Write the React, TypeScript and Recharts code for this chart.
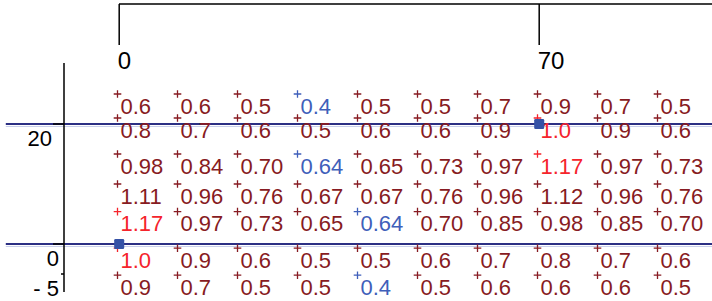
import { ReferenceLine, Scatter, ScatterChart, XAxis, YAxis } from 'recharts';

// grid of annotated values: columns are x positions, rows are y positions
const columnX = [0, 10, 20, 30, 40, 50, 60, 70, 80, 90];
const rowY = [25, 21, 15, 10, 5.4, -0.7, -5.2];
const rowDigits = [1, 1, 2, 2, 2, 1, 1];

const row1 = [0.6, 0.6, 0.5, 0.4, 0.5, 0.5, 0.7, 0.9, 0.7, 0.5];
const row2 = [0.8, 0.7, 0.6, 0.5, 0.6, 0.6, 0.9, 1.0, 0.9, 0.6];
const row3 = [0.98, 0.84, 0.7, 0.64, 0.65, 0.73, 0.97, 1.17, 0.97, 0.73];
const row4 = [1.11, 0.96, 0.76, 0.67, 0.67, 0.76, 0.96, 1.12, 0.96, 0.76];
const row5 = [1.17, 0.97, 0.73, 0.65, 0.64, 0.7, 0.85, 0.98, 0.85, 0.7];
const row6 = [1.0, 0.9, 0.6, 0.5, 0.5, 0.6, 0.7, 0.8, 0.7, 0.6];
const row7 = [0.9, 0.7, 0.5, 0.5, 0.4, 0.5, 0.6, 0.6, 0.6, 0.5];
const rows = [row1, row2, row3, row4, row5, row6, row7];

// [row, column] of highlighted cells
const highCells = [[1, 7], [2, 7], [4, 0], [5, 0]];
const lowCells = [[0, 3], [2, 3], [4, 4], [6, 4]];

// square markers and horizontal guide lines
const markerX = [0, 70];
const markerY = [0, 20];
const guideY = [20, 0];

const xTicks = [0, 70];
const yTicks = [20, 0, -5];
const xDomain = [-9.2, 98.8];
const yDomain = [-8, 40];

const FONT = '"Liberation Sans", Arial, Helvetica, sans-serif';
const DARK = '#871b22';
const HIGH = '#f5242c';
const LOW = '#3f5fba';

const isIn = (cells: number[][], r: number, c: number) =>
    cells.some(([rr, cc]) => rr === r && cc === c);

const labelPoints = rows.flatMap((vals, r) =>
    vals.map((v, c) => ({
        x: columnX[c],
        y: rowY[r],
        label: v.toFixed(rowDigits[r]),
        kind: isIn(highCells, r, c) ? 'high' : isIn(lowCells, r, c) ? 'low' : 'normal',
    })),
);

const markerPoints = markerX.map((x, i) => ({ x, y: markerY[i] }));

function ValueLabel(props: any) {
    const { cx, cy, payload } = props;
    const color = payload.kind === 'high' ? HIGH : payload.kind === 'low' ? LOW : DARK;
    const mx = cx - 1.7;
    return (
        <g>
            <path
                d={`M${mx - 3.8},${cy}H${mx + 3.8}M${mx},${cy - 3.8}V${cy + 3.8}`}
                stroke={color}
                strokeWidth={1.3}
            />
            <text x={cx + 1.3} y={cy + 19.8} fill={color} fontSize={22} fontFamily={FONT}>
                {payload.label}
            </text>
        </g>
    );
}

function SquareMarker(props: any) {
    const { cx, cy } = props;
    return <rect x={cx - 5} y={cy - 5} width={10} height={10} rx={1.3} fill="#3552a6" />;
}

function TopTick(props: any) {
    const { x, y, payload } = props;
    return (
        <text x={x - 1.5} y={y + 24} fontSize={24} fontFamily={FONT} fill="#000">
            {payload.value}
        </text>
    );
}

function LeftTick(props: any) {
    const { x, y, payload } = props;
    const v = payload.value;
    const len = v < 0 ? 3 : 11;
    const gap = v === 20 ? 12 : 5;
    return (
        <g>
            <line x1={x - len} y1={y} x2={x} y2={y} stroke="#000" strokeWidth={1.5} />
            <text
                x={x - gap}
                y={y + 21.5}
                textAnchor="end"
                fontSize={22}
                fontFamily={FONT}
                fill="#000"
            >
                {v < 0 ? `- ${-v}` : String(v)}
            </text>
        </g>
    );
}

function GuideLine(props: any) {
    const { x1, y1, x2, y2 } = props;
    return (
        <g>
            <line x1={x1} y1={y1 + 2.5} x2={x2} y2={y2 + 2.5} stroke="#c9cfea" strokeWidth={1.2} />
            <line x1={x1} y1={y1} x2={x2} y2={y2} stroke="#2c3084" strokeWidth={2} />
        </g>
    );
}

export default function App() {
    return (
        <div>
            <style>{'body{margin:0}'}</style>
            <ScatterChart
                width={712}
                height={301}
                margin={{ top: 4, right: 0, bottom: 9, left: 0 }}
            >
                <XAxis
                    type="number"
                    dataKey="x"
                    orientation="top"
                    mirror
                    domain={xDomain}
                    ticks={xTicks}
                    tickSize={41}
                    tickMargin={0}
                    axisLine={{ stroke: '#000', strokeWidth: 1.5, strokeDasharray: '0 55 2000' }}
                    tickLine={{ stroke: '#000', strokeWidth: 1.5 }}
                    tick={<TopTick />}
                />
                <YAxis
                    type="number"
                    dataKey="y"
                    width={64}
                    domain={yDomain}
                    ticks={yTicks}
                    tickSize={0}
                    tickMargin={0}
                    tickLine={false}
                    axisLine={{ stroke: '#000', strokeWidth: 1.5, strokeDasharray: '0 59 2000' }}
                    tick={<LeftTick />}
                />
                {guideY.map((g) => (
                    <ReferenceLine
                        key={g}
                        segment={[
                            { x: -18.9, y: g },
                            { x: xDomain[1], y: g },
                        ]}
                        ifOverflow="visible"
                        shape={GuideLine}
                    />
                ))}
                <Scatter
                    data={labelPoints}
                    shape={ValueLabel}
                    isAnimationActive={false}
                />
                <Scatter
                    data={markerPoints}
                    shape={SquareMarker}
                    isAnimationActive={false}
                />
            </ScatterChart>
        </div>
    );
}
